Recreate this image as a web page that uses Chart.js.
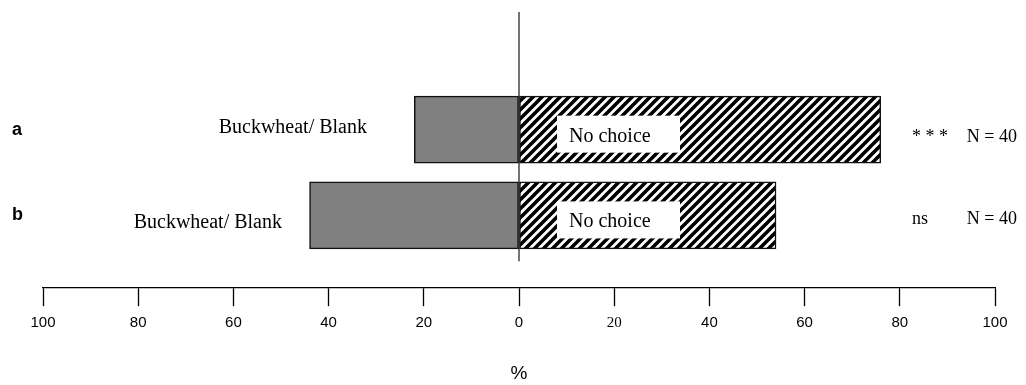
<!DOCTYPE html>
<html>
<head>
<meta charset="utf-8">
<script src="https://cdn.jsdelivr.net/npm/chart.js@4/dist/chart.umd.min.js"></script>
<style>
  html, body { margin:0; padding:0; background:#fff; }
  #wrap { width:1026px; height:385px; position:relative; }
</style>
</head>
<body>
<div id="wrap"><canvas id="choiceChart"></canvas></div>
<script>
// values (% of insects)
const rows = ['a', 'b'];
const rowPos = [1, 2];
const buckwheatBlank = [22, 44];   // drawn to the left of 0
const noChoice = [76, 54];         // drawn to the right of 0
const significance = ['* * *', 'ns'];
const sampleSize = [40, 40];
const leftLabel = 'Buckwheat/ Blank';
const rightLabel = 'No choice';
const axisTitle = '%';

const SANS = "'Liberation Sans', Arial, sans-serif";
const SERIF = "'Liberation Serif', 'Times New Roman', serif";

// diagonal hatch ////
function hatch(){
  const s = 9;
  const c = document.createElement('canvas');
  c.width = s; c.height = s;
  const g = c.getContext('2d');
  g.fillStyle = '#fff'; g.fillRect(0, 0, s, s);
  g.strokeStyle = '#000'; g.lineWidth = 3.6;
  g.beginPath();
  g.moveTo(0, s); g.lineTo(s, 0);
  g.moveTo(-s/2, s/2); g.lineTo(s/2, -s/2);
  g.moveTo(s/2, s*1.5); g.lineTo(s*1.5, s/2);
  g.stroke();
  return g.createPattern(c, 'repeat');
}

// text next to / on the bars
const annotations = {
  id: 'annotations',
  beforeDatasetsDraw(chart){
    const {ctx, chartArea, scales:{x}} = chart;
    const x0 = x.getPixelForValue(0);
    ctx.save();
    ctx.strokeStyle = '#444'; ctx.lineWidth = 1.5;
    ctx.beginPath();
    ctx.moveTo(x0, chartArea.top); ctx.lineTo(x0, chartArea.bottom - 26);
    ctx.stroke();
    ctx.restore();
  },
  afterDatasetsDraw(chart){
    const {ctx, scales:{x, y}} = chart;
    const x0 = x.getPixelForValue(0);
    ctx.save();
    rows.forEach((r, i) => {
      const yc = y.getPixelForValue(rowPos[i]);
      // row letter
      ctx.fillStyle = '#000';
      ctx.font = 'bold 18px ' + SANS;
      ctx.textAlign = 'left'; ctx.textBaseline = 'middle';
      ctx.fillText(r, 12, yc);
      // left label
      ctx.font = '20px ' + SERIF;
      ctx.textBaseline = 'alphabetic';
      ctx.textAlign = 'right';
      ctx.fillText(leftLabel, i === 0 ? 367 : 282, i === 0 ? yc + 3 : yc + 13);
      // white box with "No choice"
      ctx.fillStyle = '#fff';
      ctx.fillRect(x0 + 38, yc - 14, 123, 37);
      ctx.fillStyle = '#000';
      ctx.textAlign = 'left';
      ctx.fillText(rightLabel, x0 + 50, yc + 12);
      // significance and N
      ctx.font = '18px ' + SERIF;
      ctx.fillText(significance[i], 912, i === 0 ? yc + 12 : yc + 9);
      ctx.textAlign = 'right';
      ctx.fillText('N = ' + sampleSize[i], 1017, i === 0 ? yc + 12 : yc + 9);
    });
    ctx.restore();
  }
};

const ctx = document.getElementById('choiceChart').getContext('2d');
const chart = new Chart(ctx, {
  type: 'bar',
  data: {
    datasets: [
      { label: leftLabel, data: rows.map((r, i) => ({ x: -buckwheatBlank[i], y: rowPos[i] })),
        backgroundColor: '#808080', borderColor: '#111', borderWidth: 1.5, borderSkipped: false },
      { label: rightLabel, data: rows.map((r, i) => ({ x: noChoice[i], y: rowPos[i] })),
        backgroundColor: hatch(), borderColor: '#111', borderWidth: 1.5, borderSkipped: false }
    ]
  },
  options: {
    indexAxis: 'y',
    responsive: true,
    maintainAspectRatio: false,
    animation: false,
    grouped: false,
    barThickness: 67,
    layout: { padding: { left: 43, right: 31, top: 12, bottom: 0 } },
    plugins: { legend: { display: false }, tooltip: { enabled: false } },
    scales: {
      y: { type: 'linear', min: -0.372, max: 2.837, reverse: true, offset: false, display: false },
      x: {
        type: 'linear', min: -100, max: 100,
        border: { display: true, color: '#000', width: 1.3 },
        grid: { drawOnChartArea: false, color: '#000', tickLength: 19, tickWidth: 1.3 },
        ticks: {
          stepSize: 20, padding: 8, color: '#000', maxRotation: 0,
          callback: v => Math.abs(v),
          font: c => (c.tick && c.tick.value === 20)
            ? { family: SERIF, size: 15 }
            : { family: SANS, size: 15 }
        },
        title: { display: true, text: axisTitle, color: '#000',
                 font: { family: SANS, size: 19 }, padding: { top: 22, bottom: 0 } }
      }
    }
  },
  plugins: [annotations]
});
</script>
</body>
</html>
